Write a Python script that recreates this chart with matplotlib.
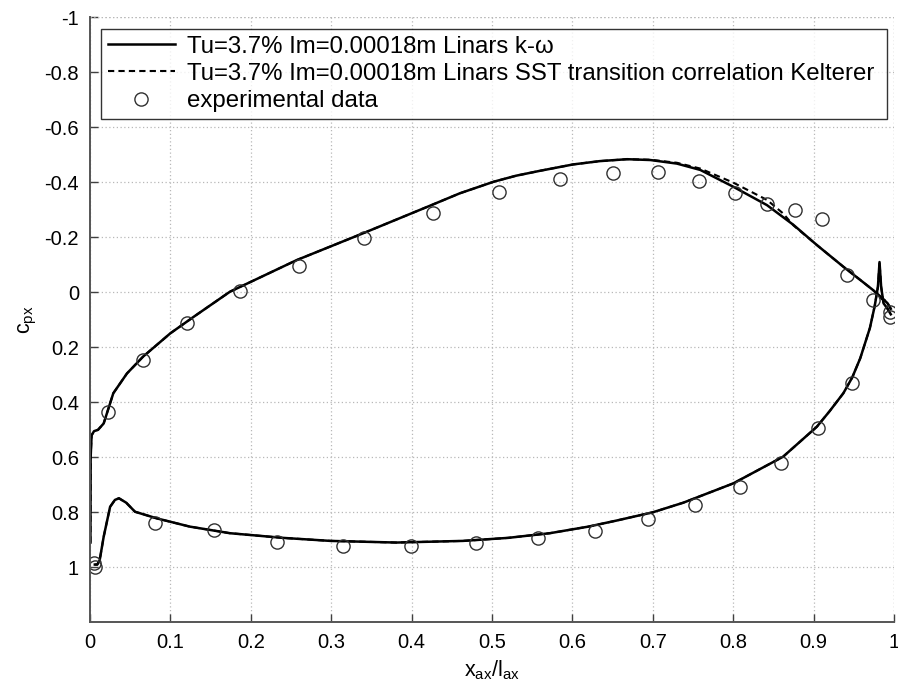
import numpy as np
import matplotlib
matplotlib.use("Agg")
import matplotlib.pyplot as plt

plt.rcParams['font.family'] = ['Liberation Sans', 'DejaVu Sans']
plt.rcParams['axes.unicode_minus'] = False
plt.rcParams['mathtext.fontset'] = 'custom'
plt.rcParams['mathtext.rm'] = 'Liberation Sans'
plt.rcParams['mathtext.default'] = 'regular'

# k-omega, suction side
kw_upper_x = [0.0005, 0.0008, 0.002, 0.005, 0.010, 0.017, 0.029, 0.046, 0.066, 0.100,
              0.129, 0.174, 0.257, 0.340, 0.423, 0.460, 0.502, 0.530, 0.560, 0.601,
              0.634, 0.668, 0.697, 0.730, 0.759, 0.800, 0.842, 0.875, 0.904, 0.937,
              0.958, 0.974, 0.985, 0.992, 0.996]
kw_upper_cp = [0.91, 0.60, 0.52, 0.505, 0.50, 0.477, 0.367, 0.295, 0.234, 0.149,
               0.089, -0.002, -0.117, -0.215, -0.315, -0.360, -0.402, -0.424, -0.442, -0.465,
               -0.477, -0.484, -0.481, -0.468, -0.445, -0.384, -0.317, -0.245, -0.172, -0.093,
               -0.045, -0.008, 0.02, 0.04, 0.06]

# k-omega, pressure side
kw_lower_x = [0.006, 0.009, 0.012, 0.017, 0.025, 0.031, 0.036, 0.045, 0.056, 0.083,
              0.124, 0.174, 0.240, 0.299, 0.381, 0.464, 0.520, 0.572, 0.620, 0.655,
              0.700, 0.738, 0.800, 0.862, 0.904, 0.920, 0.937, 0.948, 0.958, 0.970,
              0.976, 0.980, 0.982, 0.984, 0.987, 0.992, 0.996]
kw_lower_cp = [0.99, 0.99, 0.975, 0.889, 0.78, 0.755, 0.749, 0.765, 0.798, 0.822,
               0.852, 0.876, 0.893, 0.904, 0.910, 0.904, 0.893, 0.876, 0.852, 0.830,
               0.800, 0.765, 0.695, 0.598, 0.489, 0.432, 0.367, 0.310, 0.24, 0.13,
               0.05, -0.02, -0.11, -0.02, 0.04, 0.06, 0.08]

# SST transition (Kelterer), suction side
sst_upper_x = [0.0005, 0.0008, 0.002, 0.005, 0.010, 0.017, 0.029, 0.046, 0.066, 0.100,
               0.129, 0.174, 0.257, 0.340, 0.423, 0.460, 0.502, 0.530, 0.560, 0.601,
               0.634, 0.668, 0.697, 0.730, 0.759, 0.800, 0.842, 0.862, 0.875, 0.904,
               0.937, 0.958, 0.974, 0.985, 0.990, 0.996]
sst_upper_cp = [0.91, 0.60, 0.52, 0.505, 0.50, 0.477, 0.367, 0.295, 0.234, 0.149,
                0.089, -0.002, -0.117, -0.215, -0.315, -0.360, -0.402, -0.424, -0.442, -0.465,
                -0.477, -0.484, -0.482, -0.471, -0.450, -0.399, -0.336, -0.287, -0.243, -0.172,
                -0.093, -0.045, -0.008, 0.025, 0.03, 0.06]

# SST transition (Kelterer), pressure side
sst_lower_x = kw_lower_x
sst_lower_cp = kw_lower_cp

# experimental data
exp_x = [0.022, 0.066, 0.121, 0.187, 0.260, 0.341, 0.426, 0.509, 0.584, 0.651,
         0.707, 0.758, 0.802, 0.842, 0.877, 0.911, 0.941, 0.974, 0.995, 0.995,
         0.005, 0.006, 0.081, 0.154, 0.232, 0.315, 0.399, 0.480, 0.557, 0.628,
         0.694, 0.753, 0.809, 0.859, 0.905, 0.948]
exp_cp = [0.434, 0.246, 0.110, -0.005, -0.097, -0.199, -0.290, -0.365, -0.413, -0.435,
          -0.437, -0.405, -0.360, -0.321, -0.299, -0.267, -0.063, 0.028, 0.070, 0.089,
          0.985, 1.000, 0.840, 0.864, 0.907, 0.921, 0.921, 0.913, 0.892, 0.867,
          0.826, 0.772, 0.707, 0.620, 0.495, 0.331]

labels = ["Tu=3.7% Im=0.00018m Linars k-\u03c9",
          "Tu=3.7% Im=0.00018m Linars SST transition correlation Kelterer",
          "experimental data"]

fig = plt.figure(figsize=(8.98, 6.88), dpi=100)
ax = fig.add_axes([90 / 898, 1 - 622.3 / 688, 804 / 898, 605 / 688])

ax.plot(kw_upper_x, kw_upper_cp, color='black', lw=1.8, label=labels[0])
ax.plot(kw_lower_x, kw_lower_cp, color='black', lw=1.8)
ax.plot(sst_upper_x, sst_upper_cp, color='black', lw=1.5, ls=(0, (3, 2)), label=labels[1])
ax.plot(sst_lower_x, sst_lower_cp, color='black', lw=1.5, ls=(0, (3, 2)))
ax.plot(exp_x, exp_cp, ls='none', marker='o', ms=9.5, mfc='none', mec='#303030',
        mew=1.0, label=labels[2])

ax.set_xlim(0, 1)
ax.set_ylim(1.2, -1)
xt = np.round(np.arange(0, 1.01, 0.1), 1)
yt = np.round(np.arange(-1, 1.01, 0.2), 1)
ax.set_xticks(xt)
ax.set_xticklabels([f"{v:g}" for v in xt])
ax.set_yticks(yt)
ax.set_yticklabels([f"{v:g}" if v != 0 else "0" for v in yt])
ax.tick_params(direction='in', length=6, width=1, colors='#404040', labelsize=14.5,
               labelcolor='black', pad=8)

ax.grid(True, color='#b8b8b8', ls=(0, (1, 2)), lw=0.9)
ax.axhline(-1, color='#b8b8b8', ls=(0, (1, 2)), lw=0.9)
ax.axvline(1, color='#b8b8b8', ls=(0, (1, 2)), lw=0.9)
for s in ['top', 'right']:
    ax.spines[s].set_visible(False)
for s in ['left', 'bottom']:
    ax.spines[s].set_color('#555555')
    ax.spines[s].set_linewidth(1.4)

ax.set_xlabel(r"$x_{ax}/l_{ax}$", fontsize=15.5, labelpad=4)
ax.set_ylabel(r"$c_{px}$", fontsize=15.5, labelpad=4)

leg = ax.legend(loc='upper left', bbox_to_anchor=(0.0137, 0.981, 0.978, 0.0), mode='expand',
                fontsize=17.3, frameon=True, fancybox=False, handlelength=2.8,
                handletextpad=0.5, borderpad=0.28, labelspacing=0.22, borderaxespad=0)
leg.get_frame().set_edgecolor('black')
leg.get_frame().set_linewidth(1.0)

fig.savefig("out.png", dpi=100)
